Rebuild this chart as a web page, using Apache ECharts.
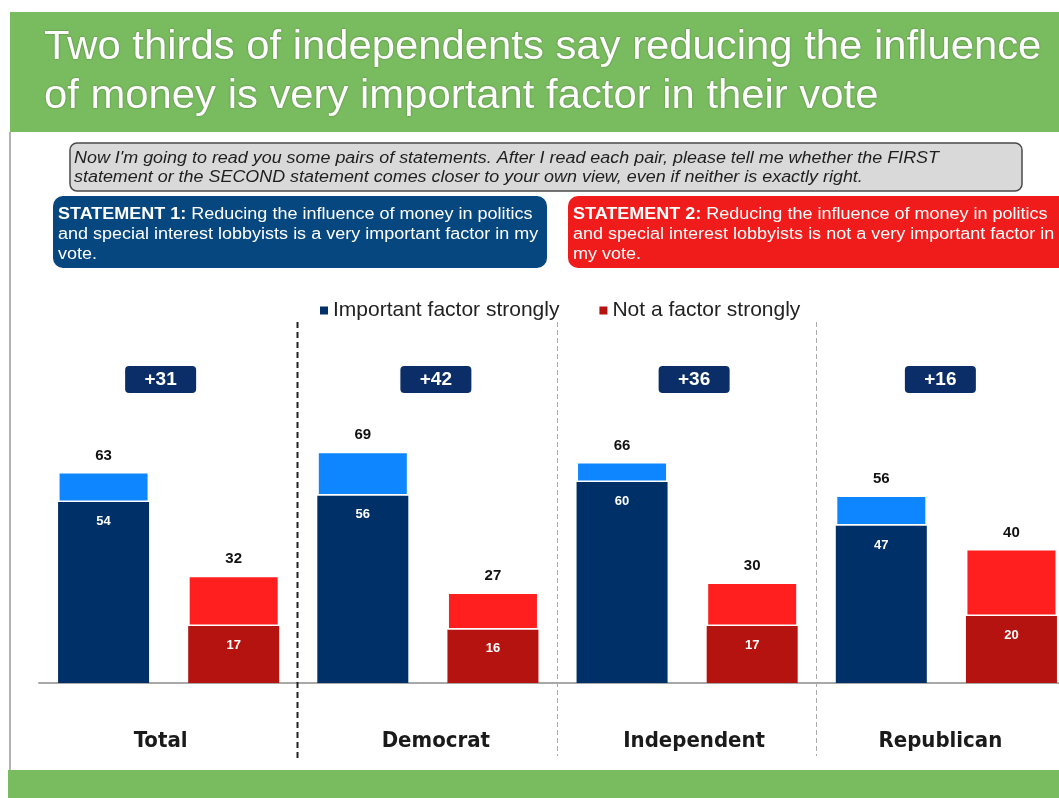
<!DOCTYPE html>
<html>
<head>
<meta charset="utf-8">
<script src="https://cdn.jsdelivr.net/npm/echarts@6/dist/echarts.min.js"></script>
<style>
html,body{margin:0;padding:0;background:#fff;}
#chart{width:1059px;height:798px;}
</style>
</head>
<body>
<div id="chart"></div>
<script>
// ---- data ----
const categories = ['Total', 'Democrat', 'Independent', 'Republican'];
const importantTotal = [63, 69, 66, 56];
const importantStrong = [54, 56, 60, 47];
const notTotal = [32, 27, 30, 40];
const notStrong = [17, 16, 17, 20];
const netValues = [31, 42, 36, 16];
const legendNames = ['Important factor strongly', 'Not a factor strongly'];

const titleLines = [
  'Two thirds of independents say reducing the influence',
  'of money is very important factor in their vote'
];
const questionText = "Now I'm going to read you some pairs of statements. After I read each pair, please tell me whether the FIRST\nstatement or the SECOND statement comes closer to your own view, even if neither is exactly right.";
const statement1 = '{b|STATEMENT 1:} Reducing the influence of money in politics\nand special interest lobbyists is a very important factor in my\nvote.';
const statement2 = '{b|STATEMENT 2:} Reducing the influence of money in politics\nand special interest lobbyists is not a very important factor in\nmy vote.';

// stacked segments derived from the totals
const importantRest = importantTotal.map((v, i) => v - importantStrong[i]);
const notRest = notTotal.map((v, i) => v - notStrong[i]);

// layout: small horizontal nudges (px) of the badge / category label per group
const NUDGE = [-8, 8, 7, -6];

const FONT = "'Liberation Sans', Arial, sans-serif";
const NARROW = "'Liberation Sans Narrow', 'DejaVu Sans Condensed', sans-serif";

const catRich = {};
NUDGE.forEach((n, i) => {
  catRich['p' + i] = {
    fontSize: 22, fontWeight: 'bold', color: '#1a1a1a', fontFamily: NARROW,
    padding: n < 0 ? [0, -2 * n, 0, 0] : [0, 0, 0, 2 * n]
  };
});

const chart = echarts.init(document.getElementById('chart'), null, {renderer: 'canvas'});

const option = {
  backgroundColor: '#ffffff',
  animation: false,
  grid: {left: 39, top: 348, width: 1037, height: 335, containLabel: false, outerBoundsMode: 'none'},
  legend: {
    data: legendNames,
    left: 320, top: 300,
    icon: 'rect', itemWidth: 8, itemHeight: 8, itemGap: 40,
    padding: 0, selectedMode: false,
    textStyle: {fontSize: 21, color: '#222', fontFamily: FONT}
  },
  xAxis: {
    type: 'category', data: categories,
    axisLine: {lineStyle: {color: '#a8a8a8', width: 2}},
    axisTick: {show: false},
    axisLabel: {
      interval: 0, hideOverlap: false,
      margin: 47, fontSize: 22, fontWeight: 'bold', color: '#1a1a1a', fontFamily: NARROW,
      formatter: (v, i) => '{p' + i + '|' + v + '}',
      rich: catRich
    }
  },
  yAxis: {type: 'value', min: 0, max: 100, show: false},
  graphic: [
    {type: 'rect', shape: {x: 10, y: 12, width: 1049, height: 120}, style: {fill: '#79bb5f'}, silent: true},
    {type: 'rect', shape: {x: 8, y: 770, width: 1051, height: 28}, style: {fill: '#79bb5f'}, silent: true},
    {type: 'line', shape: {x1: 10, y1: 132, x2: 10, y2: 770}, style: {stroke: '#9a9a9a', lineWidth: 1.5}, silent: true},
    {type: 'text', x: 44, y: 48, scaleX: 1.02, style: {text: titleLines[0], fill: '#fff', font: '41px ' + FONT, verticalAlign: 'middle', textShadowColor: 'rgba(0,0,0,0.35)', textShadowBlur: 2}},
    {type: 'text', x: 44, y: 97, scaleX: 1.02, style: {text: titleLines[1], fill: '#fff', font: '41px ' + FONT, verticalAlign: 'middle', textShadowColor: 'rgba(0,0,0,0.35)', textShadowBlur: 2}},
    {type: 'rect', shape: {x: 70, y: 143, width: 952, height: 48, r: 7}, style: {fill: '#d9d9d9', stroke: '#4a4a4a', lineWidth: 1.5}},
    {type: 'text', x: 74, y: 149, scaleX: 1.12, style: {text: questionText, fill: '#1e1e1e', font: 'italic 16px ' + FONT, lineHeight: 19}},
    {type: 'rect', shape: {x: 53, y: 196, width: 494, height: 72, r: 10}, style: {fill: '#05477e'}},
    {type: 'text', x: 58, y: 205, scaleX: 1.125, style: {text: statement1, fill: '#fff', fontSize: 16, fontFamily: FONT, lineHeight: 20,
      rich: {b: {fontWeight: 'bold', fill: '#fff', fontSize: 16, fontFamily: FONT, lineHeight: 20}}}},
    {type: 'rect', shape: {x: 568, y: 196, width: 505, height: 72, r: 10}, style: {fill: '#f01b1b'}},
    {type: 'text', x: 573, y: 205, scaleX: 1.125, style: {text: statement2, fill: '#fff', fontSize: 16, fontFamily: FONT, lineHeight: 20,
      rich: {b: {fontWeight: 'bold', fill: '#fff', fontSize: 16, fontFamily: FONT, lineHeight: 20}}}}
  ],
  series: [
    {
      name: legendNames[0], type: 'bar', stack: 'imp', data: importantStrong,
      barWidth: 91, barGap: '43%',
      itemStyle: {color: '#003068'},
      label: {show: true, position: 'insideTop', distance: 13, color: '#fff', fontWeight: 'bold', fontSize: 13, fontFamily: FONT}
    },
    {
      name: 'Important factor (total)', type: 'bar', stack: 'imp', data: importantRest,
      barWidth: 91, barGap: '43%',
      itemStyle: {color: '#0d86ff', borderColor: '#fff', borderWidth: 1.5},
      label: {show: true, position: 'top', distance: 9, color: '#111', fontWeight: 'bold', fontSize: 15, fontFamily: FONT,
        formatter: p => String(importantTotal[p.dataIndex])}
    },
    {
      name: legendNames[1], type: 'bar', stack: 'not', data: notStrong,
      barWidth: 91, barGap: '43%',
      itemStyle: {color: '#b5130f'},
      label: {show: true, position: 'insideTop', distance: 13, color: '#fff', fontWeight: 'bold', fontSize: 13, fontFamily: FONT}
    },
    {
      name: 'Not a factor (total)', type: 'bar', stack: 'not', data: notRest,
      barWidth: 91, barGap: '43%',
      itemStyle: {color: '#ff1f1f', borderColor: '#fff', borderWidth: 1.5},
      label: {show: true, position: 'top', distance: 9, color: '#111', fontWeight: 'bold', fontSize: 15, fontFamily: FONT,
        formatter: p => String(notTotal[p.dataIndex])}
    },
    {
      // net difference badges, placed over each category
      name: 'net', type: 'custom', clip: false, silent: true,
      data: netValues.map((v, i) => [i, v]),
      encode: {x: 0, y: 1},
      renderItem: function (params, api) {
        const idx = api.value(0);
        const x = api.coord([idx, 0])[0] + NUDGE[idx];
        const v = api.value(1);
        return {
          type: 'group',
          children: [
            {type: 'rect', shape: {x: x - 35.5, y: 366, width: 71, height: 27, r: 4}, style: {fill: '#0b2e68'}},
            {type: 'text', x: x, y: 380, style: {text: '+' + v, fill: '#fff', font: 'bold 19px ' + FONT, align: 'center', verticalAlign: 'middle'}}
          ]
        };
      }
    },
    {
      // dashed dividers between categories
      name: 'dividers', type: 'custom', clip: false, silent: true,
      data: [[0, 0], [1, 0], [2, 0]],
      encode: {x: 0, y: 1},
      renderItem: function (params, api) {
        const i = api.value(0);
        const x = Math.round(api.coord([i, 0])[0] + api.size([1, 0])[0] / 2) - 0.5;
        const first = i === 0;
        return {
          type: 'line',
          shape: {x1: x, y1: 322, x2: x, y2: first ? 762 : 756},
          style: first
            ? {stroke: '#222', lineWidth: 2, lineDash: [6, 4]}
            : {stroke: '#aaaaaa', lineWidth: 1, lineDash: [5, 3]}
        };
      }
    }
  ]
};

chart.setOption(option);
</script>
</body>
</html>
